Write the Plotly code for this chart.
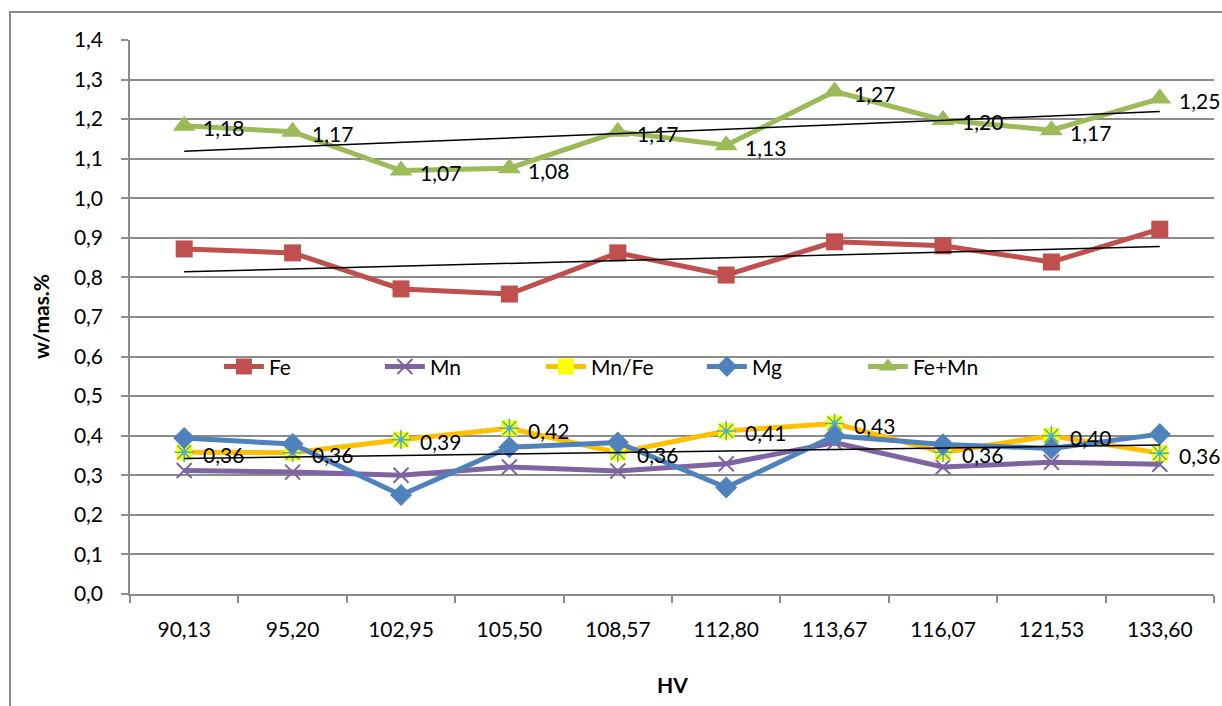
import numpy as np
import plotly.graph_objects as go

categories = ["90,13", "95,20", "102,95", "105,50", "108,57", "112,80", "113,67", "116,07", "121,53", "133,60"]
fe = [0.872, 0.862, 0.771, 0.758, 0.862, 0.806, 0.890, 0.880, 0.839, 0.922]
mn = [0.312, 0.308, 0.300, 0.321, 0.311, 0.329, 0.383, 0.321, 0.333, 0.328]
mn_fe = [0.358, 0.357, 0.390, 0.419, 0.357, 0.412, 0.431, 0.358, 0.400, 0.356]
mg = [0.394, 0.379, 0.250, 0.371, 0.383, 0.269, 0.400, 0.378, 0.368, 0.404]
fe_mn = [1.183, 1.168, 1.070, 1.076, 1.168, 1.134, 1.270, 1.198, 1.172, 1.252]

FONT = "Lato"
FS = 21
GRID = "#8C8C8C"
LW = 5
C_FE, C_MN, C_MNFE, C_MNFE_FILL, C_MNFE_STAR, C_MG, C_FEMN = (
    "#C0504D", "#8064A2", "#FFC000", "#FFFF00", "#4BACC6", "#4F81BD", "#9BBB59")

fig = go.Figure()

fig.add_trace(go.Scatter(x=categories, y=fe, name="Fe", mode="lines+markers",
                         line=dict(color=C_FE, width=LW),
                         marker=dict(symbol="square", size=17, color=C_FE)))
fig.add_trace(go.Scatter(x=categories, y=mn, name="Mn", mode="lines+markers",
                         line=dict(color=C_MN, width=LW),
                         marker=dict(symbol="x-thin", size=15, color=C_MN,
                                     line=dict(color=C_MN, width=2))))
fig.add_trace(go.Scatter(x=categories, y=mn_fe, name="Mn/Fe", mode="lines+markers",
                         line=dict(color=C_MNFE, width=LW),
                         marker=dict(symbol="square", size=16, color=C_MNFE_FILL)))
fig.add_trace(go.Scatter(x=categories, y=mn_fe, name="Mn/Fe*", mode="markers", showlegend=False,
                         hoverinfo="skip",
                         marker=dict(symbol="asterisk-open", size=16, color=C_MNFE_STAR,
                                     line=dict(color=C_MNFE_STAR, width=1.5))))
fig.add_trace(go.Scatter(x=categories, y=mg, name="Mg", mode="lines+markers",
                         line=dict(color=C_MG, width=LW),
                         marker=dict(symbol="diamond", size=17, color=C_MG)))
fig.add_trace(go.Scatter(x=categories, y=fe_mn, name="Fe+Mn", mode="lines+markers",
                         line=dict(color=C_FEMN, width=LW),
                         marker=dict(symbol="triangle-up", size=20, color=C_FEMN)))

# linear trend lines
idx = np.arange(len(categories))
for series in (fe_mn, fe, mg):
    k, b = np.polyfit(idx, series, 1)
    fig.add_trace(go.Scatter(x=[categories[0], categories[-1]], y=[b, k * idx[-1] + b],
                             mode="lines", showlegend=False, hoverinfo="skip",
                             line=dict(color="black", width=1.5)))

# data labels
annotations = []
for series in (fe_mn, mn_fe):
    for c, v in zip(categories, series):
        annotations.append(dict(x=c, y=v, xref="x", yref="y", text=f"{v:.2f}".replace(".", ","),
                                showarrow=False, xanchor="left", yanchor="middle",
                                xshift=17, yshift=-2,
                                font=dict(family=FONT, size=FS, color="black")))

annotations += [
    dict(text="<b>w/mas.%</b>", textangle=-90, x=-0.083, y=0.5, xref="paper", yref="paper",
         xanchor="center", yanchor="middle",
         showarrow=False, font=dict(family=FONT, size=FS)),
    dict(text="<b>HV</b>", x=0.5, y=-0.1625, xref="paper", yref="paper",
         xanchor="center", yanchor="middle",
         showarrow=False, font=dict(family=FONT, size=FS)),
]

fig.update_layout(
    width=1222, height=706,
    margin=dict(l=130, r=8, t=40, b=112),
    paper_bgcolor="white", plot_bgcolor="white",
    separators=", ",
    font=dict(family=FONT, size=FS, color="black"),
    showlegend=True,
    legend=dict(orientation="h", x=0.082, y=0.41, xanchor="left", yanchor="middle",
                bgcolor="rgba(0,0,0,0)", font=dict(family=FONT, size=FS),
                entrywidth=106, entrywidthmode="pixels", itemwidth=40),
    xaxis=dict(type="category", range=[-0.5, len(categories) - 0.5], autorange=False,
               showgrid=False, showline=True, linecolor=GRID, linewidth=1.5,
               ticks="outside", tickson="boundaries", ticklen=7, tickcolor=GRID, tickwidth=1.5,
               ticklabelstandoff=16, tickfont=dict(family=FONT, size=FS), automargin=False),
    yaxis=dict(range=[0, 1.4], autorange=False, dtick=0.1, tick0=0, tickformat=".1f", showgrid=True,
               gridcolor=GRID, gridwidth=1.5, showline=True, linecolor=GRID, linewidth=1.5,
               ticks="outside", ticklen=7, tickcolor=GRID, tickwidth=1.5,
               ticklabelstandoff=14, zeroline=False, tickfont=dict(family=FONT, size=FS),
               automargin=False),
    annotations=annotations,
    shapes=[dict(type="rect", xref="paper", yref="paper", x0=-0.1107, y0=-0.25, x1=1.02, y1=1.0505,
                 line=dict(color=GRID, width=2), fillcolor="rgba(0,0,0,0)", layer="below")],
)

fig.write_html("out.html", config={"displayModeBar": False},
               post_script="document.body.style.margin='0';document.body.style.overflow='hidden';")
